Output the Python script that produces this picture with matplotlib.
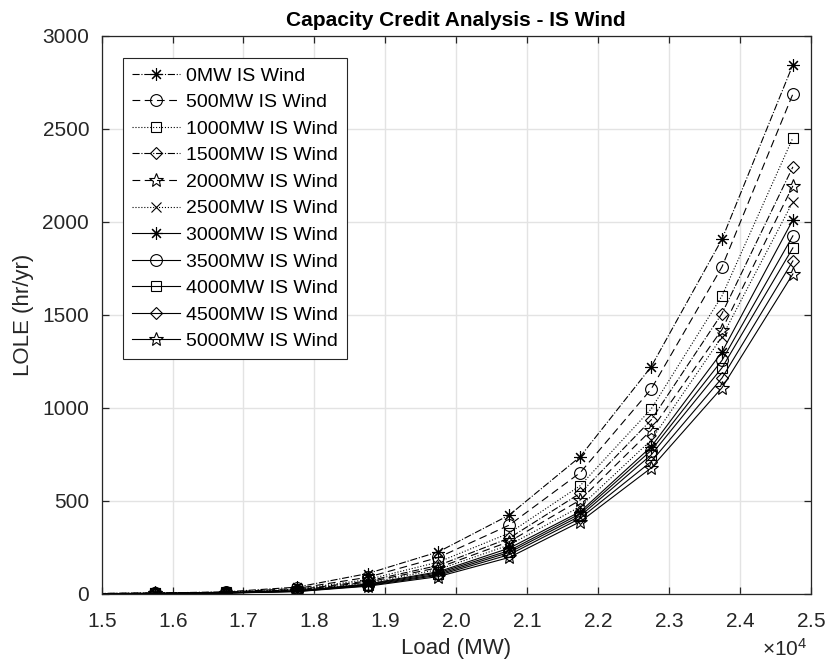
import matplotlib
matplotlib.use("Agg")
import matplotlib.pyplot as plt
from matplotlib.ticker import ScalarFormatter

plt.rcParams['font.family'] = ['Liberation Sans', 'DejaVu Sans']
plt.rcParams['mathtext.fontset'] = 'custom'
plt.rcParams['mathtext.rm'] = 'Liberation Sans'

load_mw = [14750, 15750, 16750, 17750, 18750, 19750, 20750, 21750, 22750, 23750, 24750]

labels = ['0MW IS Wind', '500MW IS Wind', '1000MW IS Wind', '1500MW IS Wind',
          '2000MW IS Wind', '2500MW IS Wind', '3000MW IS Wind', '3500MW IS Wind',
          '4000MW IS Wind', '4500MW IS Wind', '5000MW IS Wind']

lole_0 = [0.5, 3, 10, 35, 108, 225, 423, 737, 1220, 1907, 2845]
lole_500 = [0.4, 2.5, 8, 28, 88, 195, 369, 651, 1100, 1758, 2688]
lole_1000 = [0.3, 2, 7, 24, 76, 170, 326, 581, 993, 1602, 2452]
lole_1500 = [0.3, 2, 6, 21, 68, 152, 299, 540, 934, 1507, 2296]
lole_2000 = [0.2, 1.8, 5.5, 19, 62, 140, 280, 504, 879, 1421, 2194]
lole_2500 = [0.2, 1.6, 5, 17, 57, 130, 262, 468, 826, 1382, 2108]
lole_3000 = [0.2, 1.4, 4.5, 15, 52, 118, 245, 441, 790, 1300, 2011]
lole_3500 = [0.15, 1.3, 4, 14, 49, 112, 232, 430, 770, 1255, 1925]
lole_4000 = [0.1, 1.2, 3.8, 13, 46, 105, 222, 418, 746, 1215, 1860]
lole_4500 = [0.1, 1.1, 3.5, 12, 43, 99, 210, 405, 710, 1160, 1790]
lole_5000 = [0.1, 1, 3.2, 11, 40, 92, 195, 387, 676, 1108, 1720]

series = [lole_0, lole_500, lole_1000, lole_1500, lole_2000, lole_2500,
          lole_3000, lole_3500, lole_4000, lole_4500, lole_5000]

linestyles = ['-.', (0, (7, 4)), ':', '-.', (0, (7, 4)), ':', '-', '-', '-', '-', '-']
markers = [(8, 2, 0), 'o', 's', 'D', '*', 'x', (8, 2, 0), 'o', 's', 'D', '*']
msizes = [9, 8.5, 7, 6.5, 10, 7, 9, 8.5, 7, 6.5, 10]

fig = plt.figure(figsize=(8.28, 6.66), dpi=100)
ax = fig.add_axes([0.1228, 0.1086, 0.979 - 0.1228, 0.946 - 0.1086])

for y, lab, ls, mk, ms in zip(series, labels, linestyles, markers, msizes):
    ax.plot(load_mw, y, linestyle=ls, marker=mk, markersize=ms, color='black',
            markerfacecolor='none', markeredgecolor='black', markeredgewidth=0.8,
            linewidth=0.8, label=lab)

ax.set_xlim(15000, 25000)
ax.set_ylim(0, 3000)
ax.set_xticks([15000 + 1000 * i for i in range(11)])
ax.set_yticks([0, 500, 1000, 1500, 2000, 2500, 3000])

fmt = ScalarFormatter(useMathText=True)
fmt.set_powerlimits((4, 4))
ax.xaxis.set_major_formatter(fmt)
ax.xaxis.get_offset_text().set_visible(False)
fig.text(0.948, 0.025, r'$\times\mathregular{10^{4}}$', fontsize=15, color='#262626',
         ha='center', va='center')

ax.grid(True, color='#e3e3e3', linewidth=1.0)
ax.set_axisbelow(True)
for sp in ax.spines.values():
    sp.set_color('#262626')
    sp.set_linewidth(0.9)
ax.tick_params(direction='in', top=True, right=True, length=5, width=0.9,
               colors='#262626', labelsize=15, labelcolor='#262626')
ax.tick_params(axis='x', pad=13)
ax.tick_params(axis='y', pad=9)

ax.set_xlabel('Load (MW)', fontsize=16, color='#262626', labelpad=5)
ax.set_ylabel('LOLE (hr/yr)', fontsize=16, color='#262626', labelpad=6)
ax.set_title('Capacity Credit Analysis - IS Wind', fontsize=15, fontweight='bold', pad=7)

leg = ax.legend(loc='upper left', bbox_to_anchor=(0.03, 0.96), fontsize=14,
                frameon=True, fancybox=False, framealpha=1, edgecolor='#262626',
                handlelength=2.5, handletextpad=0.3, labelspacing=0.46,
                borderpad=0.45, borderaxespad=0)
leg.get_frame().set_linewidth(0.8)

fig.savefig('out.png', dpi=100)
